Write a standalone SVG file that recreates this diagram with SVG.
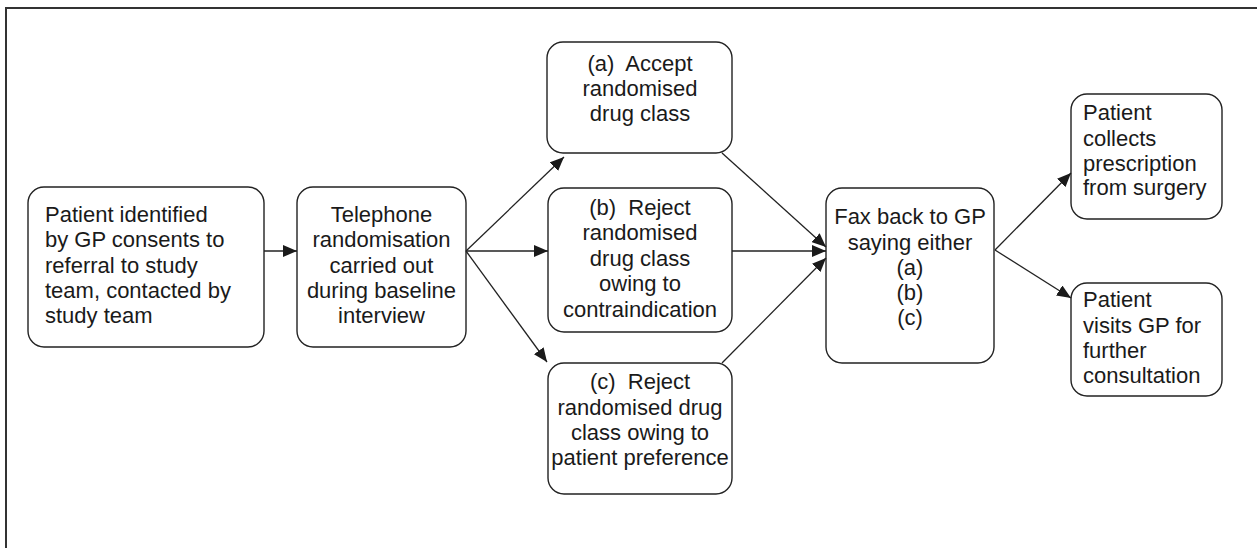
<svg xmlns="http://www.w3.org/2000/svg" width="1257" height="548" viewBox="0 0 1257 548">
<style>
.box{fill:#fff;stroke:#222;stroke-width:1.4}
.t{font-family:"Liberation Sans",Arial,sans-serif;font-size:22px;fill:#1a1a1a}
.c{text-anchor:middle}
.conn line{stroke:#222;stroke-width:1.3;marker-end:url(#ah)}
</style>
<defs>
<marker id="ah" markerUnits="userSpaceOnUse" markerWidth="14" markerHeight="12" refX="14" refY="6" orient="auto" viewBox="0 0 14 12">
<path d="M0,0 L14,6 L0,12 z" fill="#1a1a1a"/>
</marker>
</defs>
<rect width="1257" height="548" fill="#fff"/>
<path d="M6,548 L6,8 L1257,8" fill="none" stroke="#333" stroke-width="2"/>
<g id="n1">
<rect class="box" x="28" y="187" width="236" height="160" rx="16"/>
<text class="t" x="45" y="222">Patient identified</text>
<text class="t" x="45" y="247">by GP consents to</text>
<text class="t" x="45" y="273">referral to study</text>
<text class="t" x="45" y="298">team, contacted by</text>
<text class="t" x="45" y="323">study team</text>
</g>
<g id="n2">
<rect class="box" x="297" y="187" width="169" height="160" rx="16"/>
<text class="t c" x="381.5" y="222">Telephone</text>
<text class="t c" x="381.5" y="247">randomisation</text>
<text class="t c" x="381.5" y="273">carried out</text>
<text class="t c" x="381.5" y="298">during baseline</text>
<text class="t c" x="381.5" y="323">interview</text>
</g>
<g id="na">
<rect class="box" x="547" y="42" width="185" height="111" rx="16"/>
<text class="t c" x="640" y="71" xml:space="preserve">(a)  Accept</text>
<text class="t c" x="640" y="96">randomised</text>
<text class="t c" x="640" y="121">drug class</text>
</g>
<g id="nb">
<rect class="box" x="548" y="188" width="184" height="144" rx="16"/>
<text class="t c" x="640" y="215" xml:space="preserve">(b)  Reject</text>
<text class="t c" x="640" y="240">randomised</text>
<text class="t c" x="640" y="266">drug class</text>
<text class="t c" x="640" y="291">owing to</text>
<text class="t c" x="640" y="317">contraindication</text>
</g>
<g id="nc">
<rect class="box" x="548" y="363" width="184" height="131" rx="16"/>
<text class="t c" x="640" y="389" xml:space="preserve">(c)  Reject</text>
<text class="t c" x="640" y="415">randomised drug</text>
<text class="t c" x="640" y="440">class owing to</text>
<text class="t c" x="640" y="465">patient preference</text>
</g>
<g id="nfax">
<rect class="box" x="826" y="188" width="168" height="175" rx="16"/>
<text class="t c" x="910" y="224">Fax back to GP</text>
<text class="t c" x="910" y="250">saying either</text>
<text class="t c" x="910" y="275">(a)</text>
<text class="t c" x="910" y="300">(b)</text>
<text class="t c" x="910" y="325">(c)</text>
</g>
<g id="ncollect">
<rect class="box" x="1071" y="94" width="151" height="125" rx="16"/>
<text class="t" x="1083" y="120">Patient</text>
<text class="t" x="1083" y="146">collects</text>
<text class="t" x="1083" y="171">prescription</text>
<text class="t" x="1083" y="195">from surgery</text>
</g>
<g id="nvisits">
<rect class="box" x="1071" y="283" width="151" height="113" rx="16"/>
<text class="t" x="1083" y="307">Patient</text>
<text class="t" x="1083" y="333">visits GP for</text>
<text class="t" x="1083" y="358">further</text>
<text class="t" x="1083" y="383">consultation</text>
</g>
<g id="connectors" class="conn">
<line x1="264" y1="251" x2="297" y2="251"/>
<line x1="466" y1="251" x2="564" y2="157"/>
<line x1="466" y1="251" x2="548" y2="251"/>
<line x1="466" y1="251" x2="547" y2="362"/>
<line x1="722" y1="153" x2="826" y2="247"/>
<line x1="732" y1="251" x2="826" y2="251"/>
<line x1="722" y1="363" x2="826" y2="258"/>
<line x1="995" y1="250" x2="1071" y2="173"/>
<line x1="995" y1="250" x2="1071" y2="298"/>
</g>
</svg>
